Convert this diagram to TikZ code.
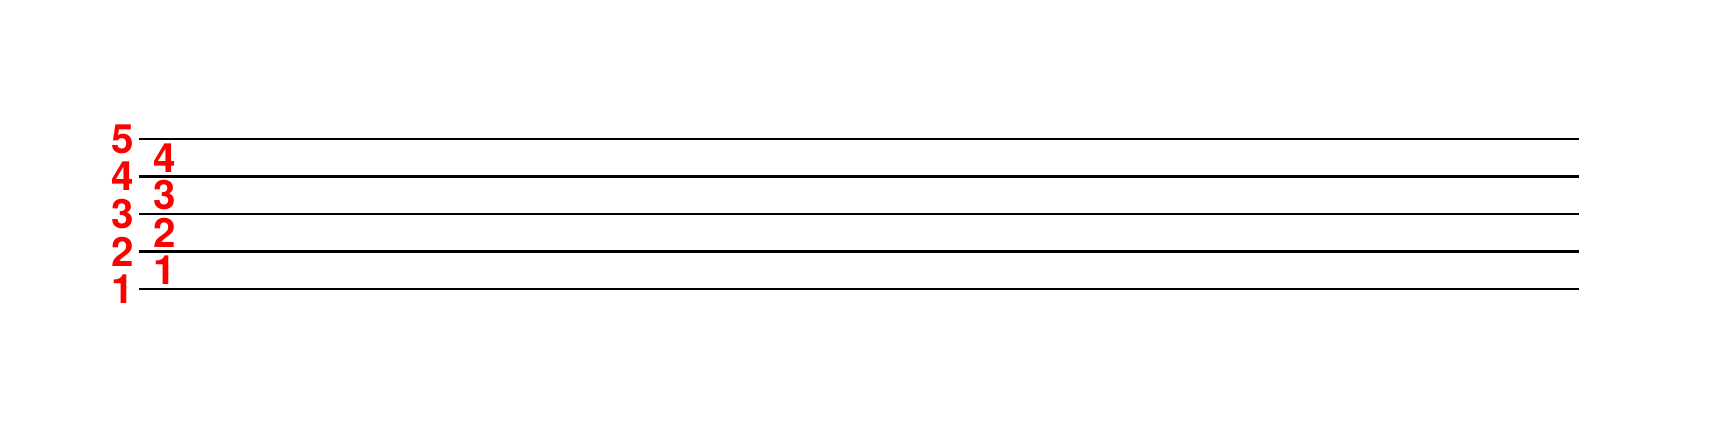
\documentclass[tikz,border=0pt]{standalone}
\usepackage{fontspec}
\setmainfont{TeX Gyre Heros}
\usepackage{tikz}

\begin{document}
\begin{tikzpicture}
            \useasboundingbox (0,0) rectangle (17.10,4.36);
            \tikzset{num/.style={text=red, font=\fontsize{11.5}{13}\selectfont\bfseries, inner sep=0pt}}
            \foreach \i in {1,...,5} {
                \coordinate (s\i) at (1.393, {1.47+0.375*(\i-1)});
                \coordinate (e\i) at (15.787, {1.47+0.375*(\i-1)});
                \node[num] (L\i) at (1.23, {1.47+0.375*(\i-1)}) {\i};
                \draw[line width=0.6pt] (s\i) -- (e\i);
            }
            \foreach \i in {1,...,4} {
                \node[num] (M\i) at (1.645, {1.47+0.375*(\i-1)+0.1875}) {\i};
            }
        \end{tikzpicture}
\end{document}
